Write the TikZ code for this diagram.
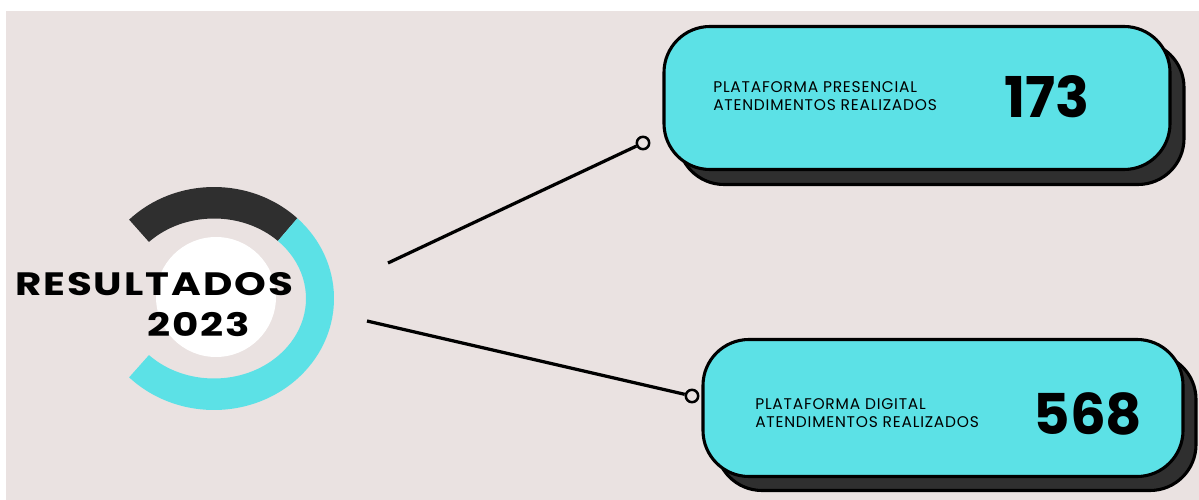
\documentclass[tikz,border=0pt]{standalone}
\usepackage{fontspec}
\setmainfont{Poppins}
\newfontfamily\largo[FakeStretch=1.25,LetterSpace=6]{Poppins}
\newfontfamily\claro[LetterSpace=5]{Poppins}
\usepackage{xcolor}
\usetikzlibrary{positioning}
\definecolor{fundo}{HTML}{EAE2E1}
\definecolor{turquesa}{HTML}{5CE1E6}
\definecolor{escuro}{HTML}{2F2F2F}
\tikzset{caixa/.style={draw=black,line width=2.2pt,fill=turquesa,rounded corners=11.5mm,inner sep=0pt},
    sombra/.style={caixa,fill=escuro},
    ponto/.style={circle,draw=black,line width=1.8pt,fill=fundo,minimum size=3.1mm,inner sep=0pt},
    linha/.style={line width=2.3pt},
    rotulo/.style={inner sep=0pt,align=left,font=\claro\fontsize{11}{13}\selectfont},
    numero/.style={inner sep=0pt,font=\fontsize{40}{40}\bfseries\selectfont},
    titulo/.style={inner sep=0pt,font=\largo\fontsize{23}{23}\bfseries\selectfont}}

\begin{document}
\begin{tikzpicture}[x=0.25mm,y=-0.25mm]
    \useasboundingbox (0,0) rectangle (1199,500);
    \fill[fundo] (6,11) rectangle (1199,500);

    % anel
    \coordinate (c) at (214,298.5);
    \fill[escuro] ([shift={(46:30mm and 27.875mm)}]c) arc[start angle=46,end angle=135,x radius=30mm,y radius=27.875mm]
        -- ([shift={(135:23mm and 20mm)}]c) arc[start angle=135,end angle=46,x radius=23mm,y radius=20mm] -- cycle;
    \fill[turquesa] ([shift={(46:30mm and 27.875mm)}]c) arc[start angle=46,end angle=-135,x radius=30mm,y radius=27.875mm]
        -- ([shift={(-135:23mm and 20mm)}]c) arc[start angle=-135,end angle=46,x radius=23mm,y radius=20mm] -- cycle;
    \fill[white] (216,297) circle[radius=15mm];
    \node[titulo] (res) at (154,284) {RESULTADOS};
    \node[titulo] (ano) at (199,325) {2023};

    % caixas
    \node[sombra,minimum width=126.5mm,minimum height=35.75mm] (s1) at (931,113) {};
    \node[caixa,minimum width=126.5mm,minimum height=35.75mm] (p1) at (917,98) {};
    \node[rotulo,anchor=west] (t1) at (713,96) {PLATAFORMA PRESENCIAL\\ATENDIMENTOS REALIZADOS};
    \node[numero] (n1) at (1047,97) {173};

    \node[sombra,minimum width=120mm,minimum height=34.25mm] (s2) at (956,422) {};
    \node[caixa,minimum width=120mm,minimum height=34.25mm] (p2) at (943,408) {};
    \node[rotulo,anchor=west] (t2) at (755,413) {PLATAFORMA DIGITAL\\ATENDIMENTOS REALIZADOS};
    \node[numero] (n2) at (1088,414) {568};

    % ligacoes
    \coordinate (a1) at (388,263);
    \coordinate (a2) at (367,321);
    \node[ponto] (o1) at (643,143) {};
    \node[ponto] (o2) at (692,396) {};
    \draw[linha] (a1) -- (o1);
    \draw[linha] (a2) -- (o2);
\end{tikzpicture}
\end{document}
